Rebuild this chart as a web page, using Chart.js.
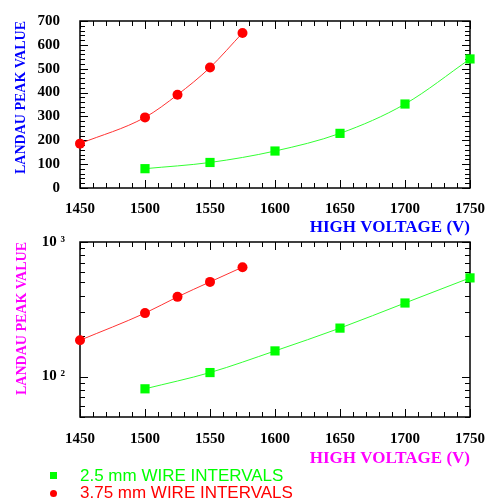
<!DOCTYPE html>
<html>
<head>
<meta charset="utf-8">
<script src="https://cdn.jsdelivr.net/npm/chart.js@4.4.1/dist/chart.umd.min.js"></script>
<style>
  body { margin: 0; background: #fff; }
  #wrap { position: relative; width: 492px; height: 504px; overflow: hidden; }
  .box { position: absolute; left: 0; width: 492px; }
  #topBox { top: 0; height: 236px; }
  #bottomBox { top: 226px; height: 244px; }
  .leg { position: absolute; left: 80px; font: 17px "Liberation Sans", Arial, sans-serif; white-space: nowrap; line-height: 16px; }
  .mk { position: absolute; left: 50px; width: 7px; height: 7px; }
</style>
</head>
<body>
<div id="wrap">
  <div class="box" id="topBox"><canvas id="linChart"></canvas></div>
  <div class="box" id="bottomBox"><canvas id="logChart"></canvas></div>
  <div class="mk" style="top:472px;background:#00ff00"></div>
  <div class="leg" id="legGreen" style="top:468px;color:#00ff00"></div>
  <div class="mk" style="top:490px;background:#ff0000;border-radius:50%"></div>
  <div class="leg" id="legRed" style="top:485px;color:#ff0000"></div>
</div>
<script>
// data
const seriesNames = ['2.5 mm WIRE INTERVALS', '3.75 mm WIRE INTERVALS']
const voltsGreen = [1500, 1550, 1600, 1650, 1700, 1750]
const peakGreen = [81, 107, 155, 229, 352, 541]
const voltsRed = [1450, 1500, 1525, 1550, 1575]
const peakRed = [186, 296, 391, 505, 650]

const xTickValues = [1450, 1500, 1550, 1600, 1650, 1700, 1750]
const yTickValues = [0, 100, 200, 300, 400, 500, 600, 700]
const logTickValues = [100, 1000]
const logTickLabels = ['10 \u00b2', '10 \u00b3']

const xTitle = 'HIGH VOLTAGE (V)'
const yTitle = 'LANDAU PEAK VALUE'

document.getElementById('legGreen').textContent = seriesNames[0]
document.getElementById('legRed').textContent = seriesNames[1]

const toPoints = (xs, ys) => xs.map((v, i) => ({ x: v, y: ys[i] }))

// minor tick positions
const xMinor = []
for (let v = 1450; v <= 1750; v += 10) xMinor.push(v)
const yMinor = []
for (let v = 0; v <= 700; v += 20) yMinor.push(v)
const logMinor = []
for (let v = 50; v < 100; v += 10) logMinor.push(v)
for (let v = 100; v <= 1000; v += 100) logMinor.push(v)

const serif = '"Liberation Serif", "Times New Roman", serif'
const tickFont = { family: serif, size: 15, weight: 'bold' }

// frame with inward ticks on all four sides
const frameTicks = {
  id: 'frameTicks',
  beforeDatasetsDraw (chart, args, opts) {
    const { ctx, chartArea: a, scales: { x, y } } = chart
    ctx.save()
    ctx.strokeStyle = '#000'
    ctx.lineWidth = 1
    ctx.beginPath()
    xMinor.forEach(v => {
      const px = Math.round(x.getPixelForValue(v)) + 0.5
      const len = xTickValues.includes(v) ? 8 : 5
      ctx.moveTo(px, a.bottom); ctx.lineTo(px, a.bottom - len)
      ctx.moveTo(px, a.top); ctx.lineTo(px, a.top + len)
    })
    opts.yMinor.forEach(v => {
      const py = Math.round(y.getPixelForValue(v)) + 0.5
      const len = opts.yMajor.includes(v) ? 8 : 5
      ctx.moveTo(a.left, py); ctx.lineTo(a.left + len, py)
      ctx.moveTo(a.right, py); ctx.lineTo(a.right - len, py)
    })
    ctx.stroke()
    ctx.lineWidth = 1.5
    ctx.strokeRect(a.left, a.top, a.width, a.height)
    ctx.restore()
  }
}

const makeDatasets = () => [
  {
    label: seriesNames[0],
    data: toPoints(voltsGreen, peakGreen),
    borderColor: '#33ff33',
    backgroundColor: '#00ff00',
    borderWidth: 1,
    pointStyle: 'rect',
    pointRadius: 6.5,
    pointBorderWidth: 0,
    cubicInterpolationMode: 'monotone',
    clip: false
  },
  {
    label: seriesNames[1],
    data: toPoints(voltsRed, peakRed),
    borderColor: '#ff3333',
    backgroundColor: '#ff0000',
    borderWidth: 1,
    pointStyle: 'circle',
    pointRadius: 5,
    pointBorderWidth: 0,
    cubicInterpolationMode: 'monotone',
    clip: false
  }
]

const makeOptions = (cfg) => ({
  responsive: true,
  maintainAspectRatio: false,
  animation: false,
  events: [],
  layout: { padding: { top: cfg.padTop, right: 22, left: 0, bottom: 0 } },
  plugins: {
    legend: { display: false },
    tooltip: { enabled: false },
    frameTicks: { yMajor: cfg.yMajor, yMinor: cfg.yMinor }
  },
  scales: {
    x: {
      type: 'linear',
      min: 1450,
      max: 1750,
      grid: { display: false },
      border: { display: false },
      afterBuildTicks: s => { s.ticks = xTickValues.map(v => ({ value: v })) },
      afterFit: s => { s.height = cfg.xHeight },
      ticks: { color: '#000', font: tickFont, padding: cfg.xPad, autoSkip: false, maxRotation: 0, callback: v => String(v) },
      title: {
        display: true,
        text: xTitle,
        align: 'end',
        color: cfg.color,
        font: { family: serif, size: 17, weight: 'bold', lineHeight: 1 },
        padding: { top: 0, bottom: cfg.titlePad }
      }
    },
    y: cfg.y
  }
})

const yLin = {
  type: 'linear',
  min: 0,
  max: 700,
  grid: { display: false },
  border: { display: false },
  afterBuildTicks: s => { s.ticks = yTickValues.map(v => ({ value: v })) },
  afterFit: s => { s.width = 80 },
  ticks: { color: '#000', font: tickFont, padding: 12 },
  title: {
    display: true,
    text: yTitle,
    align: 'end',
    color: '#0000ff',
    font: { family: serif, size: 14, weight: 'bold', lineHeight: 1 },
    padding: { top: 14.5, bottom: 0 }
  }
}

const yLog = {
  type: 'logarithmic',
  min: 50,
  max: 1000,
  grid: { display: false },
  border: { display: false },
  afterBuildTicks: s => { s.ticks = logTickValues.map(v => ({ value: v })) },
  afterFit: s => { s.width = 80 },
  ticks: {
    color: '#000',
    font: tickFont,
    padding: 7,
    callback: v => logTickLabels[logTickValues.indexOf(v)]
  },
  title: {
    display: true,
    text: yTitle,
    align: 'end',
    color: '#ff00ff',
    font: { family: serif, size: 14, weight: 'bold', lineHeight: 1 },
    padding: { top: 15, bottom: 0 }
  }
}

new Chart(document.getElementById('linChart'), {
  type: 'line',
  data: { datasets: makeDatasets() },
  options: makeOptions({ padTop: 10, xHeight: 48, xPad: 4, titlePad: 0, color: '#0000ff', y: yLin, yMajor: yTickValues, yMinor: yMinor }),
  plugins: [frameTicks]
})

new Chart(document.getElementById('logChart'), {
  type: 'line',
  data: { datasets: makeDatasets() },
  options: makeOptions({ padTop: 13, xHeight: 53, xPad: 5, titlePad: 3, color: '#ff00ff', y: yLog, yMajor: logTickValues, yMinor: logMinor }),
  plugins: [frameTicks]
})
</script>
</body>
</html>
